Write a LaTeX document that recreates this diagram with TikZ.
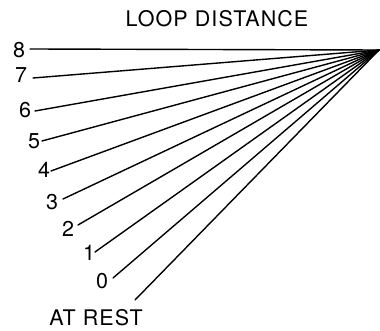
\documentclass[tikz,border=0pt]{standalone}
\usepackage{fontspec}
\setmainfont{TeX Gyre Heros}[LetterSpace=5]
\begin{document}
\begin{tikzpicture}[x=1pt,y=-1pt,
  lab/.style={inner sep=0pt,font=\fontsize{21.5}{24}\selectfont},
  ray/.style={line width=1.4pt,line cap=round}]
\useasboundingbox (0,0) rectangle (380,331);
\node[lab] (title) at (217,19) {LOOP DISTANCE};
\node[lab] (rest) at (96,318) {AT REST};
\node[lab] (n8) at (19,50) {8};
\node[lab] (n7) at (21,75) {7};
\node[lab] (n6) at (25,110) {6};
\node[lab] (n5) at (34,141) {5};
\node[lab] (n4) at (44,170) {4};
\node[lab] (n3) at (52,202) {3};
\node[lab] (n2) at (68,229) {2};
\node[lab] (n1) at (89,253) {1};
\node[lab] (n0) at (102,281) {0};
\coordinate (apex) at (379,50);
\coordinate (s8) at (30,49);
\coordinate (s7) at (33,78);
\coordinate (s6) at (35,111);
\coordinate (s5) at (42,141);
\coordinate (s4) at (51,171);
\coordinate (s3) at (63,199);
\coordinate (s2) at (78,225);
\coordinate (s1) at (95,252);
\coordinate (s0) at (113,278);
\coordinate (sr) at (135,300);
\foreach \s in {s8,s7,s6,s5,s4,s3,s2,s1,s0,sr}
  \draw[ray] (\s) -- (apex);
\end{tikzpicture}
\end{document}
